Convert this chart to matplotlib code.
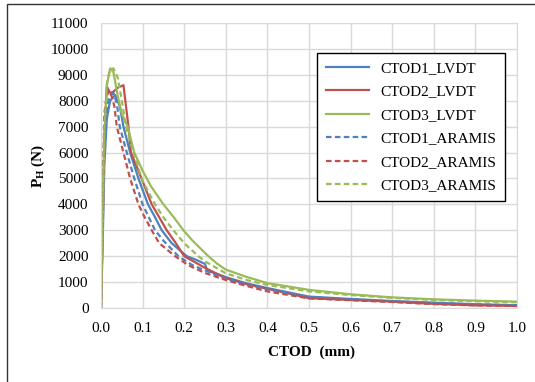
# curvas carga - CTOD (LVDT vs ARAMIS)
import matplotlib
matplotlib.use("Agg")
import matplotlib.pyplot as plt
from matplotlib.patches import Rectangle

plt.rcParams['font.family'] = ['Liberation Serif', 'DejaVu Serif']
plt.rcParams['mathtext.fontset'] = 'custom'
plt.rcParams['mathtext.rm'] = 'Liberation Serif'
plt.rcParams['mathtext.bf'] = 'Liberation Serif:bold'

# datos
x1_lvdt = [0, 0.004, 0.008, 0.014, 0.022, 0.034, 0.045, 0.054, 0.07, 0.09, 0.113, 0.13, 0.146, 0.17, 0.206,
           0.23, 0.25, 0.255, 0.3, 0.35, 0.4, 0.5, 0.6, 0.7, 0.8, 0.9, 1.0]
p1_lvdt = [0, 2500, 5500, 7300, 8000, 8220, 7800, 7000, 6000, 5000, 4000, 3500, 3000, 2500, 2000,
           1850, 1700, 1450, 1190, 950, 770, 440, 350, 270, 205, 145, 105]

x2_lvdt = [0, 0.004, 0.008, 0.014, 0.022, 0.03, 0.04, 0.054, 0.066, 0.072, 0.09, 0.122, 0.14, 0.158, 0.18,
           0.2, 0.25, 0.3, 0.35, 0.4, 0.5, 0.6, 0.7, 0.8, 0.9, 1.0]
p2_lvdt = [0, 3000, 6500, 8550, 8300, 8350, 8500, 8600, 7000, 6000, 5300, 4000, 3500, 3000, 2500,
           2000, 1550, 1150, 920, 740, 380, 310, 245, 160, 105, 80]

x3_lvdt = [0, 0.004, 0.008, 0.014, 0.022, 0.03, 0.04, 0.05, 0.064, 0.08, 0.1, 0.12, 0.15, 0.175, 0.198,
           0.22, 0.258, 0.28, 0.3, 0.35, 0.4, 0.5, 0.6, 0.7, 0.8, 0.9, 1.0]
p3_lvdt = [0, 3000, 6500, 8600, 9250, 9100, 8200, 7500, 7000, 6000, 5300, 4700, 4000, 3500, 3000,
           2600, 2000, 1700, 1480, 1200, 960, 700, 530, 410, 335, 285, 245]

x1_aramis = [0, 0.003, 0.008, 0.015, 0.022, 0.03, 0.038, 0.045, 0.062, 0.08, 0.1, 0.115, 0.13, 0.15, 0.186,
             0.22, 0.25, 0.3, 0.35, 0.4, 0.5, 0.6, 0.7, 0.8, 0.9, 1.0]
p1_aramis = [0, 3000, 6500, 7800, 8200, 8300, 7900, 7000, 6000, 5000, 4000, 3500, 3000, 2600, 2000,
             1650, 1450, 1120, 900, 720, 420, 330, 255, 190, 140, 110]

x2_aramis = [0, 0.003, 0.008, 0.012, 0.018, 0.025, 0.032, 0.038, 0.054, 0.07, 0.09, 0.105, 0.122, 0.14, 0.178,
             0.21, 0.25, 0.3, 0.35, 0.4, 0.5, 0.6, 0.7, 0.8, 0.9, 1.0]
p2_aramis = [0, 3500, 7500, 8000, 8400, 8200, 7800, 7000, 6000, 5000, 4000, 3500, 3000, 2500, 2000,
             1650, 1350, 1080, 850, 640, 370, 300, 230, 150, 100, 75]

x3_aramis = [0, 0.003, 0.008, 0.015, 0.022, 0.03, 0.04, 0.05, 0.06, 0.08, 0.1, 0.13, 0.15, 0.174, 0.2,
             0.234, 0.25, 0.3, 0.35, 0.4, 0.5, 0.6, 0.7, 0.8, 0.9, 1.0]
p3_aramis = [0, 3500, 7000, 8800, 9200, 9250, 8900, 8000, 7000, 5900, 4900, 4000, 3500, 3000, 2500,
             2000, 1800, 1340, 1080, 890, 640, 500, 390, 310, 260, 220]

azul = '#4F81BD'
rojo = '#C0504D'
verde = '#9BBB59'

fig = plt.figure(figsize=(5.35, 3.82), dpi=100)
ax = fig.add_axes([101/535, 1 - 308/382, 416/535, 285/382])

ax.plot(x1_lvdt, p1_lvdt, color=azul, lw=1.6, label='CTOD1_LVDT')
ax.plot(x2_lvdt, p2_lvdt, color=rojo, lw=1.6, label='CTOD2_LVDT')
ax.plot(x3_lvdt, p3_lvdt, color=verde, lw=1.6, label='CTOD3_LVDT')
ax.plot(x1_aramis, p1_aramis, color=azul, lw=1.6, ls=(0, (2.5, 1.5)), label='CTOD1_ARAMIS')
ax.plot(x2_aramis, p2_aramis, color=rojo, lw=1.6, ls=(0, (2.5, 1.5)), label='CTOD2_ARAMIS')
ax.plot(x3_aramis, p3_aramis, color=verde, lw=1.6, ls=(0, (2.5, 1.5)), label='CTOD3_ARAMIS')

ax.set_xlim(0, 1.0)
ax.set_ylim(0, 11000)
ax.set_xticks([i / 10 for i in range(11)])
ax.set_yticks(range(0, 11001, 1000))
ax.xaxis.set_major_formatter(plt.FuncFormatter(lambda v, p: '%.1f' % v))
ax.tick_params(length=0, labelsize=11)
ax.tick_params(axis='x', pad=10)
ax.tick_params(axis='y', pad=9)
ax.grid(True, color='#D9D9D9', lw=1)
ax.set_axisbelow(True)
for s in ax.spines.values():
    s.set_color('#D9D9D9')

fig.text(311/535, 1 - 352/382, 'CTOD  (mm)', ha='center', va='center', fontsize=11, fontweight='bold')
fig.text(38/535, 1 - 166/382, r'$\mathbf{P_H}$ (N)', ha='center', va='center', fontsize=11,
         fontweight='bold', rotation=90)

leg = ax.legend(loc='upper right', bbox_to_anchor=(505/535, 1 - 53/382), bbox_transform=fig.transFigure,
                fontsize=11, fancybox=False, framealpha=1, edgecolor='black', handlelength=2.8,
                labelspacing=0.64, borderpad=0.55, borderaxespad=0)
leg.get_frame().set_linewidth(1)

# marco exterior
fig.patches.append(Rectangle((7/535, -0.1), 1.2, 1.1 - 4/382, transform=fig.transFigure,
                             fill=False, edgecolor='#333333', lw=1))

fig.savefig('out.png', dpi=100)
